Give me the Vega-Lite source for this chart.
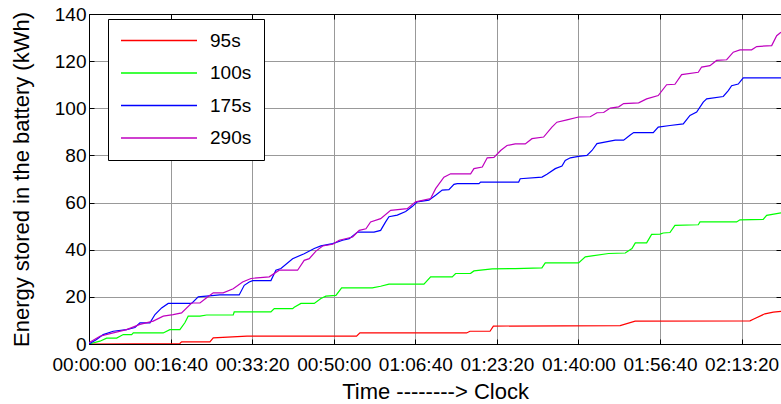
{
  "$schema": "https://vega.github.io/schema/vega-lite/v6.json",
  "width": 692,
  "height": 330,
  "autosize": "none",
  "padding": {"left": 89, "top": 14, "right": 0, "bottom": 60},
  "background": "white",
  "config": {"font": "Liberation Sans", "view": {"stroke": "black", "strokeWidth": 1}},
  "datasets": {
    "d": [
      {"s":"95s","t":0,"e":0},{"s":"95s","t":1114,"e":0.2},{"s":"95s","t":1135,"e":0.9},{"s":"95s","t":1482,"e":0.9},{"s":"95s","t":1523,"e":2.6},{"s":"95s","t":1937,"e":3.3},{"s":"95s","t":3280,"e":3.3},{"s":"95s","t":3321,"e":4.7},{"s":"95s","t":4629,"e":4.7},{"s":"95s","t":4670,"e":5.4},{"s":"95s","t":4916,"e":5.4},{"s":"95s","t":4957,"e":7.6},{"s":"95s","t":6511,"e":7.8},{"s":"95s","t":6695,"e":9.7},{"s":"95s","t":8103,"e":9.8},{"s":"95s","t":8143,"e":10.5},{"s":"95s","t":8286,"e":12.8},{"s":"95s","t":8389,"e":13.5},{"s":"95s","t":8483,"e":13.8},
      {"s":"100s","t":0,"e":0},{"s":"100s","t":134,"e":1.2},{"s":"100s","t":216,"e":2.5},{"s":"100s","t":339,"e":2.5},{"s":"100s","t":420,"e":4},{"s":"100s","t":523,"e":4},{"s":"100s","t":543,"e":4.7},{"s":"100s","t":910,"e":4.7},{"s":"100s","t":991,"e":6.1},{"s":"100s","t":1114,"e":6.1},{"s":"100s","t":1175,"e":9},{"s":"100s","t":1216,"e":11.8},{"s":"100s","t":1360,"e":11.8},{"s":"100s","t":1442,"e":12.3},{"s":"100s","t":1768,"e":12.3},{"s":"100s","t":1780,"e":13.6},{"s":"100s","t":2230,"e":13.6},{"s":"100s","t":2271,"e":15},{"s":"100s","t":2496,"e":15},{"s":"100s","t":2516,"e":15.6},{"s":"100s","t":2598,"e":17.2},{"s":"100s","t":2761,"e":17.2},{"s":"100s","t":2843,"e":19.3},{"s":"100s","t":2904,"e":20.3},{"s":"100s","t":3027,"e":20.6},{"s":"100s","t":3097,"e":23.8},{"s":"100s","t":3473,"e":23.8},{"s":"100s","t":3575,"e":24.5},{"s":"100s","t":3677,"e":25.4},{"s":"100s","t":4106,"e":25.4},{"s":"100s","t":4188,"e":28.5},{"s":"100s","t":4453,"e":28.5},{"s":"100s","t":4494,"e":29.9},{"s":"100s","t":4678,"e":30},{"s":"100s","t":4719,"e":31},{"s":"100s","t":4943,"e":31.9},{"s":"100s","t":5225,"e":32},{"s":"100s","t":5552,"e":32.3},{"s":"100s","t":5593,"e":34.4},{"s":"100s","t":6002,"e":34.4},{"s":"100s","t":6084,"e":37},{"s":"100s","t":6370,"e":38.4},{"s":"100s","t":6574,"e":38.6},{"s":"100s","t":6656,"e":40.5},{"s":"100s","t":6697,"e":42.9},{"s":"100s","t":6836,"e":42.9},{"s":"100s","t":6897,"e":46.5},{"s":"100s","t":7000,"e":46.6},{"s":"100s","t":7040,"e":47.1},{"s":"100s","t":7122,"e":47.3},{"s":"100s","t":7183,"e":50.3},{"s":"100s","t":7469,"e":50.6},{"s":"100s","t":7490,"e":51.8},{"s":"100s","t":7939,"e":51.8},{"s":"100s","t":7980,"e":52.7},{"s":"100s","t":8265,"e":52.9},{"s":"100s","t":8307,"e":54.6},{"s":"100s","t":8483,"e":55.6},
      {"s":"175s","t":0,"e":0},{"s":"175s","t":93,"e":1.9},{"s":"175s","t":174,"e":4},{"s":"175s","t":297,"e":5.4},{"s":"175s","t":461,"e":6.1},{"s":"175s","t":563,"e":7},{"s":"175s","t":624,"e":9},{"s":"175s","t":747,"e":9},{"s":"175s","t":809,"e":12.5},{"s":"175s","t":890,"e":15.3},{"s":"175s","t":971,"e":17.2},{"s":"175s","t":1258,"e":17.2},{"s":"175s","t":1339,"e":20},{"s":"175s","t":1604,"e":20.8},{"s":"175s","t":1841,"e":20.8},{"s":"175s","t":1903,"e":24.9},{"s":"175s","t":1964,"e":26.3},{"s":"175s","t":2006,"e":26.9},{"s":"175s","t":2230,"e":26.9},{"s":"175s","t":2291,"e":31.3},{"s":"175s","t":2353,"e":32},{"s":"175s","t":2496,"e":36.2},{"s":"175s","t":2638,"e":38.3},{"s":"175s","t":2761,"e":40.5},{"s":"175s","t":2843,"e":41.6},{"s":"175s","t":2987,"e":42.6},{"s":"175s","t":3109,"e":44},{"s":"175s","t":3190,"e":44.7},{"s":"175s","t":3293,"e":47.5},{"s":"175s","t":3493,"e":47.5},{"s":"175s","t":3575,"e":48.2},{"s":"175s","t":3636,"e":51.8},{"s":"175s","t":3677,"e":54},{"s":"175s","t":3779,"e":54.7},{"s":"175s","t":3882,"e":56.2},{"s":"175s","t":3962,"e":58.3},{"s":"175s","t":4024,"e":60.3},{"s":"175s","t":4167,"e":61},{"s":"175s","t":4249,"e":63.1},{"s":"175s","t":4330,"e":65.3},{"s":"175s","t":4412,"e":65.5},{"s":"175s","t":4474,"e":67.7},{"s":"175s","t":4514,"e":68},{"s":"175s","t":4780,"e":68},{"s":"175s","t":4801,"e":68.7},{"s":"175s","t":5267,"e":68.7},{"s":"175s","t":5286,"e":70.1},{"s":"175s","t":5553,"e":70.8},{"s":"175s","t":5614,"e":72},{"s":"175s","t":5716,"e":74.4},{"s":"175s","t":5798,"e":75.5},{"s":"175s","t":5838,"e":77.9},{"s":"175s","t":5900,"e":79},{"s":"175s","t":6002,"e":79.6},{"s":"175s","t":6104,"e":80},{"s":"175s","t":6166,"e":82.1},{"s":"175s","t":6227,"e":85},{"s":"175s","t":6451,"e":86.5},{"s":"175s","t":6554,"e":86.5},{"s":"175s","t":6635,"e":88.7},{"s":"175s","t":6677,"e":89.7},{"s":"175s","t":6917,"e":89.7},{"s":"175s","t":6978,"e":92},{"s":"175s","t":7122,"e":92.7},{"s":"175s","t":7285,"e":93.4},{"s":"175s","t":7367,"e":97},{"s":"175s","t":7449,"e":98.4},{"s":"175s","t":7530,"e":102.6},{"s":"175s","t":7572,"e":104},{"s":"175s","t":7775,"e":105},{"s":"175s","t":7837,"e":107.5},{"s":"175s","t":7878,"e":109.6},{"s":"175s","t":7959,"e":110.3},{"s":"175s","t":8020,"e":112.9},{"s":"175s","t":8483,"e":112.9},
      {"s":"290s","t":0,"e":0.5},{"s":"290s","t":134,"e":3.3},{"s":"290s","t":297,"e":4.7},{"s":"290s","t":461,"e":6.1},{"s":"290s","t":624,"e":8.3},{"s":"290s","t":787,"e":9.7},{"s":"290s","t":910,"e":11.8},{"s":"290s","t":1032,"e":12.5},{"s":"290s","t":1135,"e":13.2},{"s":"290s","t":1258,"e":17.4},{"s":"290s","t":1360,"e":17.4},{"s":"290s","t":1442,"e":19.6},{"s":"290s","t":1523,"e":21.7},{"s":"290s","t":1645,"e":21.7},{"s":"290s","t":1768,"e":23.4},{"s":"290s","t":1883,"e":26.3},{"s":"290s","t":1985,"e":27.8},{"s":"290s","t":2209,"e":28.5},{"s":"290s","t":2332,"e":31.3},{"s":"290s","t":2557,"e":31.3},{"s":"290s","t":2638,"e":35.5},{"s":"290s","t":2700,"e":36.2},{"s":"290s","t":2782,"e":39.4},{"s":"290s","t":2864,"e":41.6},{"s":"290s","t":2987,"e":42.3},{"s":"290s","t":3067,"e":44},{"s":"290s","t":3232,"e":45.4},{"s":"290s","t":3313,"e":48.2},{"s":"290s","t":3395,"e":48.9},{"s":"290s","t":3452,"e":51.8},{"s":"290s","t":3575,"e":53.2},{"s":"290s","t":3698,"e":56.7},{"s":"290s","t":3901,"e":57.4},{"s":"290s","t":4004,"e":60.3},{"s":"290s","t":4188,"e":61.7},{"s":"290s","t":4249,"e":65.9},{"s":"290s","t":4351,"e":70.8},{"s":"290s","t":4433,"e":72.2},{"s":"290s","t":4678,"e":72.2},{"s":"290s","t":4719,"e":74.4},{"s":"290s","t":4821,"e":75.1},{"s":"290s","t":4882,"e":79},{"s":"290s","t":4964,"e":79.2},{"s":"290s","t":5046,"e":82.1},{"s":"290s","t":5124,"e":84.2},{"s":"290s","t":5225,"e":84.9},{"s":"290s","t":5348,"e":84.9},{"s":"290s","t":5430,"e":87.1},{"s":"290s","t":5573,"e":87.8},{"s":"290s","t":5675,"e":92},{"s":"290s","t":5736,"e":94.1},{"s":"290s","t":5859,"e":95.1},{"s":"290s","t":6002,"e":96.3},{"s":"290s","t":6145,"e":96.4},{"s":"290s","t":6227,"e":98.1},{"s":"290s","t":6309,"e":98.2},{"s":"290s","t":6390,"e":100.1},{"s":"290s","t":6493,"e":100.6},{"s":"290s","t":6554,"e":102},{"s":"290s","t":6738,"e":102.3},{"s":"290s","t":6836,"e":104},{"s":"290s","t":6978,"e":105.4},{"s":"290s","t":7081,"e":110},{"s":"290s","t":7183,"e":110.2},{"s":"290s","t":7265,"e":114.3},{"s":"290s","t":7469,"e":115.3},{"s":"290s","t":7510,"e":117.5},{"s":"290s","t":7612,"e":118.1},{"s":"290s","t":7694,"e":120.3},{"s":"290s","t":7817,"e":120.6},{"s":"290s","t":7898,"e":123.8},{"s":"290s","t":7980,"e":124.8},{"s":"290s","t":8123,"e":124.8},{"s":"290s","t":8185,"e":126.2},{"s":"290s","t":8369,"e":126.6},{"s":"290s","t":8430,"e":130.8},{"s":"290s","t":8483,"e":132.3}
    ]
  },
  "data": {"name": "d"},
  "layer": [
    {
      "mark": {"type": "line", "strokeWidth": 1.2, "clip": true},
      "encoding": {
        "x": {
          "field": "t", "type": "quantitative",
          "scale": {"domain": [0, 8483], "nice": false, "zero": false},
          "axis": {
            "orient": "bottom",
            "values": [0, 1000, 2000, 3000, 4000, 5000, 6000, 7000, 8000],
            "labelExpr": "utcFormat(datum.value*1000, '%H:%M:%S')",
            "title": "Time --------> Clock",
            "titleFontSize": 22, "titleFontWeight": "normal", "titleColor": "black", "titlePadding": 7,
            "labelFontSize": 19, "labelColor": "black", "labelPadding": 16, "labelFlush": false, "labelOverlap": false,
            "grid": true, "gridColor": "#999999", "gridWidth": 1,
            "ticks": true, "tickSize": -5, "tickColor": "black", "domainColor": "black"
          }
        },
        "y": {
          "field": "e", "type": "quantitative",
          "scale": {"domain": [0, 140], "nice": false},
          "axis": {
            "orient": "left",
            "values": [0, 20, 40, 60, 80, 100, 120, 140],
            "title": "Energy stored in the battery (kWh)",
            "titleFontSize": 22, "titleFontWeight": "normal", "titleColor": "black", "titlePadding": 21,
            "labelFontSize": 19, "labelColor": "black", "labelPadding": 8, "labelFlush": false, "labelOverlap": false,
            "grid": true, "gridColor": "#999999", "gridWidth": 1,
            "ticks": true, "tickSize": -5, "tickColor": "black", "domainColor": "black"
          }
        },
        "color": {
          "field": "s", "type": "nominal",
          "scale": {"domain": ["95s", "100s", "175s", "290s"], "range": ["#ff0000", "#00ff00", "#0000ff", "#bf00bf"]},
          "legend": {
            "orient": "none", "legendX": 19, "legendY": 5, "title": null,
            "strokeColor": "black", "fillColor": "white", "padding": 12,
            "symbolType": "stroke", "symbolSize": 5776, "symbolStrokeWidth": 1.5,
            "clipHeight": 19,
            "labelFontSize": 19, "labelColor": "black", "labelOffset": 12, "rowPadding": 12.5
          }
        }
      }
    },
    {
      "mark": {"type": "line", "opacity": 0},
      "encoding": {
        "x": {
          "field": "t", "type": "quantitative",
          "axis": {"orient": "top", "values": [0, 1000, 2000, 3000, 4000, 5000, 6000, 7000, 8000], "labels": false, "title": null, "grid": false, "tickSize": -5, "tickColor": "black", "domainColor": "black"}
        },
        "y": {
          "field": "e", "type": "quantitative",
          "axis": {"orient": "right", "values": [0, 20, 40, 60, 80, 100, 120, 140], "labels": false, "title": null, "grid": false, "tickSize": -5, "tickColor": "black", "domainColor": "black"}
        },
        "detail": {"field": "s"}
      }
    }
  ],
  "resolve": {"axis": {"x": "independent", "y": "independent"}}
}
